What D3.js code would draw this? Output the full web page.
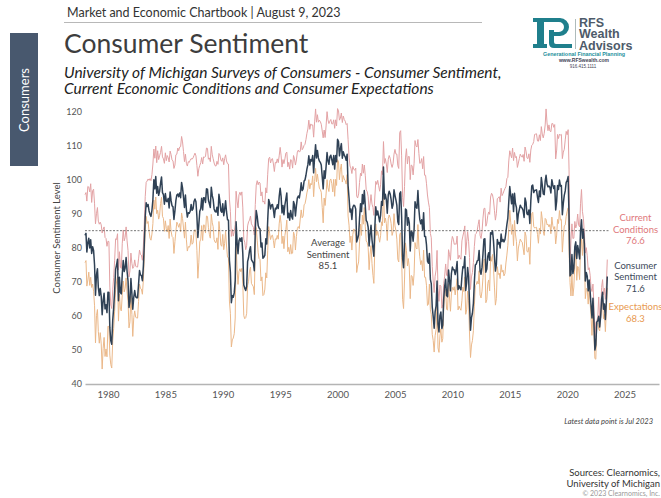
<!DOCTYPE html>
<html>
<head>
<meta charset="utf-8">
<script src="https://cdn.jsdelivr.net/npm/d3@7"></script>
<style>
  body { margin: 0; background: #fff; }
  svg { display: block; }
  text { font-family: Lato, "Open Sans", sans-serif; }
</style>
</head>
<body>
<svg width="661" height="498"></svg>
<script>
// monthly values, Jan 1978 .. Jul 2023
var sentiment = [
  83.7,84.3,78.8,81.6,82.9,80.0,82.4,78.4,80.4,79.3,75.0,66.1,
  72.1,73.9,68.4,66.0,68.1,65.8,60.4,64.5,66.7,62.1,63.3,61.0,
  67.0,66.9,56.5,52.7,51.7,58.7,62.3,67.4,73.7,75.0,76.7,64.5,
  71.4,66.9,66.5,72.4,76.3,73.1,74.1,77.2,73.1,70.3,62.5,64.3,
  71.0,66.5,62.0,65.5,67.5,65.7,65.4,65.4,69.3,73.4,72.1,71.9,
  70.4,74.6,80.8,89.1,93.3,92.2,92.8,90.9,89.9,89.3,91.1,94.2,
  100.1,97.4,101.0,96.1,98.1,95.5,96.6,99.1,100.9,96.3,95.7,92.9,
  96.0,93.7,93.7,94.6,91.8,96.5,94.0,92.4,92.1,88.4,90.9,93.9,
  95.6,95.9,95.1,96.2,94.8,99.3,97.7,94.9,91.9,95.6,91.4,89.1,
  90.4,90.2,90.8,92.8,91.1,91.5,93.7,94.4,93.6,89.3,83.1,86.8,
  90.8,91.6,94.6,91.2,94.8,94.7,93.4,97.4,97.3,94.1,93.0,91.9,
  97.9,95.4,94.3,91.5,90.7,90.6,92.0,89.6,95.8,93.9,90.9,90.5,
  93.0,89.5,91.3,93.9,90.6,88.3,88.2,76.4,72.8,63.9,66.0,65.5,
  66.8,70.4,87.7,81.8,78.3,82.1,82.9,82.0,83.0,78.3,69.1,68.2,
  67.5,68.8,76.0,77.2,79.2,80.4,76.6,76.1,75.6,73.3,85.3,91.0,
  89.3,86.6,85.9,85.6,80.3,81.5,77.0,77.3,77.9,82.7,81.2,88.2,
  94.3,93.2,91.5,92.6,92.8,91.2,89.0,91.7,91.5,92.7,91.6,95.1,
  97.6,95.1,90.3,92.5,89.8,92.7,94.4,96.2,88.9,90.2,88.2,91.0,
  89.3,88.5,93.7,92.7,89.4,92.4,94.7,95.3,94.7,96.5,99.2,96.9,
  97.4,99.7,100.0,101.4,103.2,104.5,107.1,104.4,106.0,105.6,107.2,102.1,
  106.6,110.4,106.5,108.7,106.5,105.6,105.2,104.4,100.9,97.4,102.7,100.5,
  103.9,108.1,105.7,104.6,106.8,107.3,106.0,104.5,107.2,103.2,107.2,105.4,
  112.0,111.3,107.1,109.2,110.7,106.4,108.3,107.3,106.8,105.8,107.6,98.4,
  94.7,90.6,91.5,88.4,92.0,92.6,92.4,91.5,81.8,82.7,83.9,88.8,
  93.0,90.7,95.7,93.0,96.9,92.4,88.1,87.6,86.1,80.6,84.2,86.7,
  82.4,79.9,77.6,86.0,92.1,89.7,90.9,89.3,87.7,89.6,93.7,92.6,
  103.8,94.4,95.8,94.2,90.2,95.6,96.7,95.9,94.2,91.7,92.8,97.1,
  95.5,94.1,92.6,87.7,86.9,96.0,96.5,89.1,76.9,74.2,81.6,91.5,
  91.2,86.7,88.9,87.4,79.1,84.9,84.7,82.0,85.4,93.6,92.1,91.7,
  96.9,91.3,88.4,87.1,88.3,85.3,90.4,83.4,83.4,80.9,76.1,75.5,
  78.4,70.8,69.5,62.6,59.8,56.4,61.2,63.0,70.3,57.6,55.3,60.1,
  61.2,56.3,57.3,65.1,68.7,70.8,66.0,65.7,73.5,70.6,67.4,72.5,
  74.4,73.6,73.6,72.2,73.6,76.0,67.8,68.9,68.2,67.7,71.6,74.5,
  74.2,77.5,67.5,69.8,74.3,71.5,63.7,55.8,59.5,60.8,63.7,69.9,
  75.0,75.3,76.2,76.4,79.3,73.2,72.3,74.3,78.3,82.6,82.7,72.9,
  73.8,77.6,78.6,76.4,84.5,84.1,85.1,82.1,77.5,73.2,75.1,82.5,
  81.2,81.6,80.0,84.1,81.9,82.5,81.8,82.5,84.6,86.9,88.8,93.6,
  98.1,95.4,93.0,95.9,90.7,96.1,93.1,91.9,87.2,90.0,91.3,92.6,
  92.0,91.7,91.0,89.0,94.7,93.5,90.0,89.8,91.2,87.2,93.8,98.2,
  98.5,96.3,96.9,97.0,97.1,95.0,93.4,96.8,95.1,100.7,98.5,95.9,
  95.7,99.7,101.4,98.8,98.0,98.2,97.9,96.2,100.1,98.6,97.5,98.3,
  91.2,93.8,98.4,97.2,100.0,98.2,98.4,89.8,93.2,95.5,96.8,99.3,
  99.8,101.0,89.1,71.8,72.3,78.1,72.5,74.1,80.4,81.8,76.9,80.7,
  79.0,76.8,84.9,88.3,82.9,85.5,81.2,70.3,72.8,71.7,67.4,70.6,
  67.2,62.8,59.4,65.2,58.4,50.0,51.5,58.2,58.6,59.9,56.8,59.7,
  64.9,67.0,62.0,63.5,59.0,64.4,71.6
];

var currentConditions = [
  95.7,96.3,93.8,98.1,97.9,96.5,98.9,93.4,96.9,97.3,93.0,87.1,
  90.1,91.9,87.9,87.0,87.6,86.8,84.4,85.5,86.2,83.1,82.8,80.5,
  82.0,81.9,68.5,63.2,62.2,67.7,71.3,76.4,82.7,82.5,84.2,73.5,
  78.9,74.4,74.0,81.4,85.3,82.1,83.1,86.2,82.1,79.3,71.5,73.3,
  78.5,75.5,74.0,74.5,76.5,74.7,74.4,74.4,76.8,79.4,78.1,77.9,
  76.4,80.6,86.8,95.1,99.3,99.7,100.3,99.9,100.4,99.8,101.6,104.7,
  109.1,106.4,110.0,105.1,108.6,106.0,107.1,108.1,109.9,106.8,106.2,104.9,
  108.0,105.7,107.2,106.6,105.3,108.5,107.5,105.9,105.6,103.4,104.4,107.4,
  107.6,109.4,108.6,109.7,109.8,112.8,111.2,108.4,105.4,107.6,104.9,104.1,
  105.4,105.2,105.8,106.3,106.1,106.5,107.2,107.9,107.1,104.3,101.1,103.3,
  104.3,105.1,106.6,104.7,106.8,106.7,106.9,109.4,109.3,106.1,106.5,105.4,
  109.9,107.4,106.3,105.0,104.2,104.1,105.5,104.6,107.8,107.4,105.9,105.5,
  106.5,104.5,106.3,107.4,105.6,104.8,104.7,94.4,90.8,83.4,85.5,83.5,
  84.8,86.9,96.7,93.8,91.8,95.6,96.4,95.5,96.5,91.8,82.6,81.7,
  79.5,80.8,86.5,87.7,88.2,89.4,87.1,86.6,86.1,83.8,92.8,98.5,
  99.8,98.6,99.4,99.1,95.3,96.5,93.5,93.8,92.9,97.7,96.2,101.7,
  106.3,106.7,105.0,106.1,106.3,104.7,102.5,105.2,105.0,106.2,105.1,107.1,
  109.6,107.1,103.8,106.0,104.8,106.2,107.9,108.2,103.9,105.2,103.2,106.0,
  105.8,103.5,107.2,106.2,104.4,105.9,108.2,108.8,108.2,108.5,111.2,108.9,
  109.4,110.2,110.5,111.9,113.7,115.0,117.6,114.9,116.5,116.1,116.2,112.6,
  117.1,120.9,117.0,119.2,117.0,117.6,117.2,116.4,114.4,112.4,114.7,112.5,
  115.9,120.1,117.7,116.6,117.3,117.8,116.5,116.5,117.7,115.2,117.7,115.9,
  121.0,120.3,117.6,118.2,119.7,116.9,118.8,117.8,117.3,116.3,116.6,111.9,
  106.7,104.1,103.5,101.9,104.0,103.1,102.9,103.5,95.3,94.7,95.9,99.3,
  102.0,101.2,104.7,102.0,104.4,101.4,97.1,96.6,95.1,91.1,93.2,95.7,
  92.9,91.9,89.6,95.0,99.6,98.7,99.9,98.3,96.7,98.6,102.7,101.6,
  111.3,104.9,106.3,104.7,102.2,106.1,107.2,106.4,104.7,103.7,104.8,107.6,
  109.0,107.6,107.6,104.2,103.4,114.0,114.5,107.1,94.9,92.2,98.1,106.5,
  109.2,104.7,106.9,106.9,100.1,104.4,104.2,101.5,104.9,111.6,110.1,109.7,
  111.9,107.8,104.9,105.1,106.3,103.3,106.9,101.4,101.4,98.9,95.6,93.5,
  91.9,84.3,83.0,74.6,70.3,66.9,71.7,73.5,79.3,68.1,64.3,69.1,
  68.7,62.3,63.3,69.6,71.7,75.3,72.0,71.7,79.5,78.1,76.4,81.5,
  83.4,82.6,81.1,81.2,81.1,83.5,76.8,77.9,77.2,76.7,82.1,83.5,
  84.7,86.5,78.0,81.8,84.8,82.0,77.2,67.8,71.5,72.8,75.7,80.4,
  84.0,84.3,85.2,86.9,88.3,83.7,82.8,84.8,88.8,91.6,91.7,86.4,
  87.3,89.6,90.6,89.9,95.0,96.1,95.6,94.1,91.0,88.2,90.1,94.5,
  94.7,95.1,93.5,97.6,95.4,96.0,96.8,97.5,98.1,100.4,100.8,105.6,
  108.6,107.4,106.5,109.4,105.7,108.1,106.6,106.9,103.7,105.0,106.3,107.6,
  107.0,106.7,107.5,105.5,109.7,108.5,106.5,106.3,107.7,105.2,108.8,110.2,
  110.5,111.3,113.4,113.5,113.6,111.5,111.4,113.3,111.6,115.7,113.5,112.4,
  113.7,116.2,120.9,116.8,114.5,116.2,114.4,114.2,116.6,116.6,115.5,116.3,
  106.2,108.8,113.4,112.2,113.5,113.2,113.4,106.3,108.2,109.0,111.8,114.3,
  113.3,114.8,103.2,74.8,82.3,87.1,82.8,82.9,87.8,85.9,87.0,90.0,
  86.7,86.2,93.0,97.2,90.8,88.6,84.5,78.5,80.1,77.7,73.6,74.2,
  72.0,68.2,67.2,69.4,63.3,53.8,58.1,58.6,59.7,65.6,58.8,59.4,
  68.4,70.7,66.3,68.2,64.9,69.0,76.6
];

var expectations = [
  75.7,76.3,68.8,70.6,72.9,69.0,71.4,68.4,69.4,67.3,63.0,52.1,
  60.1,61.9,55.4,52.0,55.1,51.8,44.4,50.5,53.7,48.1,50.3,48.0,
  57.0,56.9,48.5,45.7,44.7,52.7,56.3,61.4,67.7,70.0,71.7,58.5,
  66.4,61.9,61.5,66.4,70.3,67.1,68.1,71.2,67.1,64.3,56.5,58.3,
  66.0,60.5,54.0,59.5,61.5,59.7,59.4,59.4,64.3,69.4,68.1,67.9,
  66.4,70.6,76.8,85.1,89.3,87.2,87.8,84.9,82.9,82.3,84.1,87.2,
  94.1,91.4,95.0,90.1,91.1,88.5,89.6,93.1,94.9,89.3,88.7,84.9,
  88.0,85.7,84.7,86.6,82.8,88.5,85.0,83.4,83.1,78.4,81.9,84.9,
  87.6,86.9,86.1,87.2,84.8,90.3,88.7,85.9,82.9,87.6,82.4,79.1,
  80.4,80.2,80.8,83.8,81.1,81.5,84.7,85.4,84.6,79.3,71.1,75.8,
  81.8,82.6,86.6,82.2,86.8,86.7,84.4,89.4,89.3,86.1,84.0,82.9,
  89.9,87.4,86.3,82.5,81.7,81.6,83.0,79.6,87.8,84.9,80.9,80.5,
  84.0,79.5,81.3,84.9,80.6,77.3,77.2,64.4,60.8,50.9,53.0,53.5,
  54.8,59.4,81.7,73.8,69.3,73.1,73.9,73.0,74.0,69.3,60.1,59.2,
  59.5,60.8,69.0,70.2,73.2,74.4,69.6,69.1,68.6,66.3,80.3,86.0,
  82.3,78.6,76.9,76.6,70.3,71.5,66.0,66.3,67.9,72.7,71.2,79.2,
  86.3,84.2,82.5,83.6,83.8,82.2,80.0,82.7,82.5,83.7,82.6,87.1,
  89.6,87.1,81.3,83.5,79.8,83.7,85.4,88.2,78.9,80.2,78.2,81.0,
  78.3,78.5,84.7,83.7,79.4,83.4,85.7,86.3,85.7,88.5,91.2,88.9,
  89.4,92.7,93.0,94.4,96.2,97.5,100.1,97.4,99.0,98.6,101.2,95.1,
  99.6,103.4,99.5,101.7,99.5,97.6,97.2,96.4,91.9,87.4,94.7,92.5,
  95.9,100.1,97.7,96.6,99.8,100.3,99.0,96.5,100.2,95.2,100.2,98.4,
  106.0,105.3,100.1,103.2,104.7,99.4,101.3,100.3,99.8,98.8,101.6,89.4,
  86.7,81.6,83.5,79.4,84.0,85.6,85.4,83.5,72.8,74.7,75.9,81.8,
  87.0,83.7,89.7,87.0,91.9,86.4,82.1,81.6,80.1,73.6,78.2,80.7,
  75.4,71.9,69.6,80.0,87.1,83.7,84.9,83.3,81.7,83.6,87.7,86.6,
  98.8,87.4,88.8,87.2,82.2,88.6,89.7,88.9,87.2,83.7,84.8,90.1,
  86.5,85.1,82.6,76.7,75.9,84.0,84.5,77.1,64.9,62.2,70.6,81.5,
  79.2,74.7,76.9,74.4,65.1,71.9,71.7,69.0,72.4,81.6,80.1,79.7,
  86.9,80.3,77.4,75.1,76.3,73.3,79.4,71.4,71.4,68.9,63.1,63.5,
  69.4,61.8,60.5,54.6,52.8,49.4,54.2,56.0,64.3,50.6,49.3,54.1,
  56.2,52.3,53.3,62.1,66.7,67.8,62.0,61.7,69.5,65.6,61.4,66.5,
  68.4,67.6,68.6,66.2,68.6,71.0,61.8,62.9,62.2,61.7,64.6,68.5,
  67.2,71.5,60.5,61.8,67.3,64.5,54.7,47.8,51.5,52.8,55.7,62.9,
  69.0,69.3,70.2,69.4,73.3,66.2,65.3,67.3,71.3,76.6,76.7,63.9,
  64.8,69.6,70.6,67.4,77.5,76.1,78.1,74.1,68.5,63.2,65.1,74.5,
  72.2,72.6,71.0,75.1,72.9,73.5,71.8,72.5,75.6,77.9,80.8,85.6,
  91.1,87.4,84.0,86.9,80.7,88.1,84.1,81.9,76.2,80.0,81.3,82.6,
  82.0,81.7,80.0,78.0,84.7,83.5,79.0,78.8,80.2,75.2,83.8,90.2,
  90.5,86.3,85.9,86.0,86.1,84.0,81.4,85.8,84.1,90.7,88.5,84.9,
  83.7,88.7,88.4,86.8,87.0,86.2,86.9,84.2,89.1,86.6,85.5,86.3,
  81.2,83.8,88.4,87.2,91.0,88.2,88.4,78.8,83.2,86.5,86.8,89.3,
  90.8,91.8,79.7,69.8,65.9,72.3,65.9,68.5,75.6,79.2,70.5,74.6,
  74.0,70.7,79.7,82.7,77.8,83.5,79.0,65.1,68.1,67.9,63.5,68.3,
  64.1,59.4,54.3,62.5,55.2,47.5,47.3,58.0,58.0,56.2,55.6,59.9,
  62.7,64.7,59.2,60.5,55.4,61.5,68.3
];

var averageSentiment = 85.1;
var yTicks = [40, 50, 60, 70, 80, 90, 100, 110, 120];
var xTickYears = [1980, 1985, 1990, 1995, 2000, 2005, 2010, 2015, 2020, 2025];
var firstMonth = new Date(1978, 0, 1);

var svg = d3.select("svg");

// ---- header ----
svg.append("text").attr("x", 67).attr("y", 17)
    .style("font-size", "12.5px").attr("fill", "#333")
    .text("Market and Economic Chartbook | August 9, 2023");
svg.append("line").attr("x1", 64).attr("x2", 482).attr("y1", 22.5).attr("y2", 22.5)
    .attr("stroke", "#b8b8b8").attr("stroke-width", 1);

svg.append("text").attr("x", 64).attr("y", 53)
    .style("font-size", "26.5px").attr("fill", "#3d3d3d")
    .text("Consumer Sentiment");
svg.append("text").attr("x", 64).attr("y", 78)
    .style("font-size", "15.5px").style("font-style", "italic").attr("fill", "#222")
    .text("University of Michigan Surveys of Consumers - Consumer Sentiment,");
svg.append("text").attr("x", 64).attr("y", 94)
    .style("font-size", "15.5px").style("font-style", "italic").attr("fill", "#222")
    .text("Current Economic Conditions and Consumer Expectations");

// side tab
svg.append("rect").attr("x", 10).attr("y", 33).attr("width", 28).attr("height", 133)
    .attr("fill", "#48586e");
svg.append("text").attr("transform", "translate(29,100) rotate(-90)")
    .attr("text-anchor", "middle").style("font-size", "13px").attr("fill", "#fff")
    .text("Consumers");

// logo
var logo = svg.append("g").attr("fill", "#1f7f8c");
logo.append("rect").attr("x", 537).attr("y", 18).attr("width", 7).attr("height", 30);
logo.append("rect").attr("x", 533).attr("y", 18).attr("width", 14).attr("height", 4);
logo.append("rect").attr("x", 533).attr("y", 44).attr("width", 14).attr("height", 4);
logo.append("path").attr("d", "M544,18H560A9,9 0 0 1 560,36H549V32H559A5,5 0 0 0 559,22H544Z");
logo.append("path").attr("d", "M549,30V43Q549,48 554,48H572V44H556Q554,44 554,42V30Z");
svg.append("line").attr("x1", 575.5).attr("x2", 575.5).attr("y1", 19).attr("y2", 49)
    .attr("stroke", "#9aa").attr("stroke-width", 0.8);
var logoWords = svg.append("text").attr("x", 579).attr("y", 26.5)
    .style("font-family", "'Liberation Sans', Arial, sans-serif")
    .style("font-size", "12.5px").style("font-weight", "bold").attr("fill", "#4e5b6a");
["RFS", "Wealth", "Advisors"].forEach(function(w, i) {
  logoWords.append("tspan").attr("x", 579).attr("dy", i ? 11.7 : 0).text(w);
});
svg.append("text").attr("x", 584).attr("y", 56).attr("text-anchor", "middle")
    .style("font-family", "'Liberation Sans', Arial, sans-serif")
    .style("font-size", "6px").style("font-weight", "bold").attr("fill", "#1f8f9c")
    .attr("textLength", 82).attr("lengthAdjust", "spacingAndGlyphs")
    .text("Generational Financial Planning");
svg.append("text").attr("x", 584).attr("y", 62).attr("text-anchor", "middle")
    .style("font-family", "'Liberation Sans', Arial, sans-serif")
    .style("font-size", "5px").style("font-weight", "bold").attr("fill", "#445")
    .text("www.RFSwealth.com");
svg.append("text").attr("x", 583).attr("y", 67.5).attr("text-anchor", "middle")
    .style("font-family", "'Liberation Sans', Arial, sans-serif")
    .style("font-size", "4.5px").attr("fill", "#445")
    .text("916.415.1111");

// ---- chart ----
var x = d3.scaleTime().domain([firstMonth, new Date(2028, 0, 1)]).range([85, 659]);
var y = d3.scaleLinear().domain([40, 120]).range([384, 112]);

function toPoints(arr) {
  return arr.map(function(v, i) { return {date: d3.timeMonth.offset(firstMonth, i), value: v}; });
}
var line = d3.line()
    .x(function(d) { return x(d.date); })
    .y(function(d) { return y(d.value); });

var series = [
  {id: "current", values: toPoints(currentConditions), color: "#e3a2a4", width: 1},
  {id: "expect", values: toPoints(expectations), color: "#ebb889", width: 1},
  {id: "sent", values: toPoints(sentiment), color: "#2f4155", width: 1.5}
];
var lastDate = series[2].values[series[2].values.length - 1].date;

// y axis labels
svg.append("g")
    .attr("transform", "translate(85,0)")
    .call(d3.axisLeft(y).tickValues(yTicks).tickSize(0).tickPadding(3))
    .call(function(g) { g.select(".domain").remove(); })
    .selectAll("text")
    .style("font-family", "Lato, sans-serif").style("font-size", "9px").attr("fill", "#555");

svg.append("text").attr("transform", "translate(60,238) rotate(-90)")
    .attr("text-anchor", "middle").style("font-size", "9.5px").attr("fill", "#444")
    .text("Consumer Sentiment Level");

// x axis
var xAxis = svg.append("g")
    .attr("transform", "translate(0,384)")
    .call(d3.axisBottom(x)
      .tickValues(xTickYears.map(function(yr) { return new Date(yr, 0, 1); }))
      .tickFormat(d3.timeFormat("%Y")).tickSize(0).tickPadding(7));
xAxis.select(".domain").attr("stroke", "#b4b4b4").attr("stroke-width", 1.6);
xAxis.selectAll("text").style("font-family", "Lato, sans-serif")
    .style("font-size", "9.5px").attr("fill", "#555");

// lines
svg.append("g").selectAll("path")
    .data(series)
  .enter().append("path")
    .attr("fill", "none")
    .attr("stroke", function(d) { return d.color; })
    .attr("stroke-width", function(d) { return d.width; })
    .attr("stroke-linejoin", "round")
    .attr("d", function(d) { return line(d.values); });

// average
svg.append("line")
    .attr("x1", x(firstMonth)).attr("x2", x(lastDate) + 2)
    .attr("y1", y(averageSentiment)).attr("y2", y(averageSentiment))
    .attr("stroke", "#555").attr("stroke-width", 0.8).attr("stroke-dasharray", "2,1.5");
var avgLabel = svg.append("text").attr("x", 328).attr("y", 246)
    .attr("text-anchor", "middle").style("font-size", "9.5px").attr("fill", "#444");
["Average", "Sentiment", String(averageSentiment)].forEach(function(t, i) {
  avgLabel.append("tspan").attr("x", 328).attr("dy", i ? 11.6 : 0).text(t);
});

// end labels
var endLabels = [
  {lines: ["Current", "Conditions", currentConditions[currentConditions.length - 1].toFixed(1)], y: 221, color: "#e0787c"},
  {lines: ["Consumer", "Sentiment", sentiment[sentiment.length - 1].toFixed(1)], y: 268.5, color: "#3d4a5b"},
  {lines: ["Expectations", expectations[expectations.length - 1].toFixed(1)], y: 310, color: "#e8994f"}
];
endLabels.forEach(function(l) {
  var t = svg.append("text").attr("x", 635.5).attr("y", l.y)
      .attr("text-anchor", "middle").style("font-size", "9.5px").attr("fill", l.color);
  l.lines.forEach(function(s, i) {
    t.append("tspan").attr("x", 635.5).attr("dy", i ? 11.7 : 0).text(s);
  });
});

// footer
svg.append("text").attr("x", 653).attr("y", 424).attr("text-anchor", "end")
    .style("font-size", "7.5px").style("font-style", "italic").attr("fill", "#444")
    .text("Latest data point is Jul 2023");
svg.append("text").attr("x", 660).attr("y", 476).attr("text-anchor", "end")
    .style("font-size", "9.5px").attr("fill", "#333").text("Sources: Clearnomics,");
svg.append("text").attr("x", 660).attr("y", 487).attr("text-anchor", "end")
    .style("font-size", "9.5px").attr("fill", "#333").text("University of Michigan");
svg.append("text").attr("x", 660).attr("y", 496).attr("text-anchor", "end")
    .style("font-size", "7px").attr("fill", "#999").text("\u00a9 2023 Clearnomics, Inc.");
</script>
</body>
</html>
